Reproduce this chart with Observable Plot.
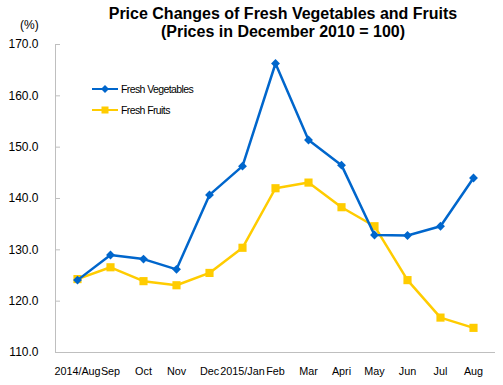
<!DOCTYPE html>
<html>
<head>
<meta charset="utf-8">
<script src="https://cdn.jsdelivr.net/npm/d3@7"></script>
<script src="https://cdn.jsdelivr.net/npm/@observablehq/plot@0.6"></script>
<style>
  body { margin: 0; background: #fff; font-family: "Liberation Sans", Arial, sans-serif; }
  #wrap { position: relative; width: 503px; height: 385px; }
  #title { position: absolute; left: 90px; width: 386px; top: 5px; text-align: center; font-weight: bold; font-size: 16px; line-height: 18px; color: #000; }
  #unit { position: absolute; left: 20px; top: 18px; font-size: 12px; color: #000; }
  .leg { position: absolute; left: 92px; font-size: 10.5px; letter-spacing: -0.6px; color: #000; display: flex; align-items: center; height: 14px; }
  .leg svg { margin-right: 3px; }
</style>
</head>
<body>
<div id="wrap">
  <div id="chart"></div>
  <div id="title">Price Changes of Fresh Vegetables and Fruits<br>(Prices in December 2010 = 100)</div>
  <div id="unit">(%)</div>
  <div id="legend"></div>
</div>
<script>
const months = ["2014/Aug", "Sep", "Oct", "Nov", "Dec", "2015/Jan", "Feb", "Mar", "Apri", "May", "Jun", "Jul", "Aug"];
const vegetables = [124.1, 129.0, 128.2, 126.2, 140.7, 146.3, 166.3, 151.4, 146.5, 132.9, 132.8, 134.6, 144.0];
const fruits = [124.3, 126.6, 123.9, 123.1, 125.5, 130.4, 142.0, 143.1, 138.3, 134.6, 124.1, 116.8, 114.8];
const yTicks = [110, 120, 130, 140, 150, 160, 170];
const seriesNames = ["Fresh Vegetables", "Fresh Fruits"];
const seriesColors = ["#0066CC", "#FFCC00"];

const vegData = months.map((m, i) => ({month: m, value: vegetables[i]}));
const fruitData = months.map((m, i) => ({month: m, value: fruits[i]}));

const chart = Plot.plot({
  width: 503,
  height: 385,
  marginLeft: 55,
  marginRight: 8,
  marginTop: 44,
  marginBottom: 33,
  style: {fontFamily: "'Liberation Sans', Arial, sans-serif", background: "#fff"},
  x: {type: "point", domain: months, padding: 0.5},
  y: {domain: [110, 170]},
  marks: [
    Plot.axisY({ticks: yTicks, tickFormat: d => d.toFixed(1), tickSize: -5, tickPadding: 22, stroke: "#bfbfbf", fontSize: 12, fill: "#000", label: null}),
    Plot.axisX({tickSize: 0, tickPadding: 15, fontSize: 10.8, fill: "#000", label: null, style: {letterSpacing: "-0.6px"}}),
    Plot.frame({anchor: "left", stroke: "#bfbfbf"}),
    Plot.ruleY([110], {stroke: "#bfbfbf"}),
    Plot.line(fruitData, {x: "month", y: "value", stroke: seriesColors[1], strokeWidth: 2.5}),
    Plot.dot(fruitData, {x: "month", y: "value", symbol: "square", r: 4.6, fill: seriesColors[1], stroke: "none"}),
    Plot.line(vegData, {x: "month", y: "value", stroke: seriesColors[0], strokeWidth: 2.5}),
    Plot.dot(vegData, {x: "month", y: "value", symbol: "diamond2", r: 4, fill: seriesColors[0], stroke: "none"})
  ]
});
document.getElementById("chart").appendChild(chart);

// legend
const legend = document.getElementById("legend");
const legTops = [82, 103];
seriesNames.forEach((name, i) => {
  const div = document.createElement("div");
  div.className = "leg";
  div.style.top = legTops[i] + "px";
  const marker = i === 0
    ? `<path d="M13,3 L17,7 L13,11 L9,7 Z" fill="${seriesColors[0]}"/>`
    : `<rect x="9.5" y="3.5" width="7" height="7" fill="${seriesColors[1]}"/>`;
  div.innerHTML = `<svg width="26" height="14"><line x1="0" x2="26" y1="7" y2="7" stroke="${seriesColors[i]}" stroke-width="2"/>${marker}</svg><span>${name}</span>`;
  legend.appendChild(div);
});
</script>
</body>
</html>
